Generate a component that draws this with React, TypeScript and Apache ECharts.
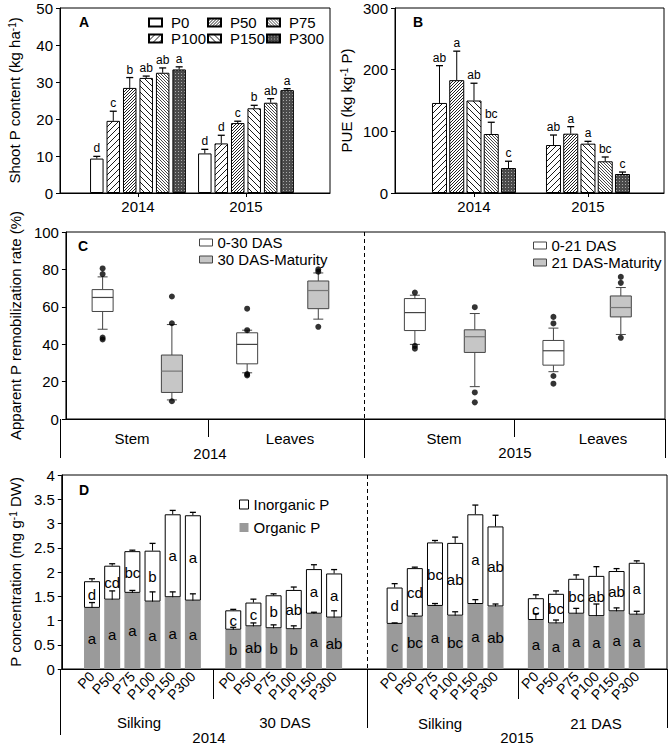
import React, { useEffect, useRef } from 'react';
import * as echarts from 'echarts';

const FONT = '"Liberation Sans", Arial, sans-serif';

// ---------- Panel A : Shoot P content ----------
const YEARS = ['2014', '2015'];
const A_NAMES = ['P0', 'P100', 'P50', 'P150', 'P75', 'P300'];
const A_MEAN = [
  [9.3, 10.7],
  [19.5, 13.4],
  [28.4, 18.9],
  [31.1, 22.9],
  [32.5, 24.4],
  [33.4, 27.8],
];
const A_ERR = [
  [0.6, 1.1],
  [2.6, 2.2],
  [2.8, 0.5],
  [0.5, 0.8],
  [1.3, 1.1],
  [0.7, 0.4],
];
const A_LET = [
  ['d', 'd'],
  ['c', 'd'],
  ['b', 'c'],
  ['ab', 'b'],
  ['ab', 'ab'],
  ['a', 'a'],
];

// ---------- Panel B : PUE ----------
const B_NAMES = ['P100', 'P50', 'P150', 'P75', 'P300'];
const B_MEAN = [
  [146, 77.8],
  [183, 96.2],
  [150, 80],
  [95.7, 51.4],
  [40.5, 30.8],
];
const B_ERR = [
  [60.5, 16.2],
  [47, 11.4],
  [28, 3.8],
  [19, 7],
  [11, 3.2],
];
const B_LET = [
  ['ab', 'ab'],
  ['a', 'a'],
  ['ab', 'a'],
  ['bc', 'bc'],
  ['c', 'c'],
];

// ---------- Panel C : remobilization boxplots ----------
const C_BOX_NAMES = [
  '0-30 DAS', '30 DAS-Maturity', '0-30 DAS', '30 DAS-Maturity',
  '0-21 DAS', '21 DAS-Maturity', '0-21 DAS', '21 DAS-Maturity',
];
// [lower whisker, Q1, median, Q3, upper whisker]
const C_STATS = [
  [48, 57.5, 65, 69.2, 76],
  [10.2, 14.2, 25.6, 34.2, 50.5],
  [24.7, 29.5, 39.9, 46.1, 47.5],
  [53.4, 59, 68.7, 73.8, 78.1],
  [39.9, 47.3, 56.9, 64.4, 66.2],
  [17.3, 35.6, 44, 47.7, 56.4],
  [25.3, 28.8, 36.5, 42, 48.6],
  [45.2, 54.6, 59.6, 65.8, 70.3],
];
const C_OUTLIERS = [
  [80.5, 77.5, 43.5, 42.5],
  [65.5, 51.2, 9.5],
  [59, 47.5, 24, 23.3],
  [80, 78.8, 49.3],
  [67.6, 39.1, 37.6],
  [59.8, 14.2, 8.9],
  [54.6, 51.1, 23, 18.9],
  [76, 72.8, 43.4],
];
const C_LEGEND_2014 = ['0-30 DAS', '30 DAS-Maturity'];
const C_LEGEND_2015 = ['0-21 DAS', '21 DAS-Maturity'];

// ---------- Panel D : P concentration ----------
const D_TREAT = ['P0', 'P50', 'P75', 'P100', 'P150', 'P300'];
const D_ORG = [
  [1.26, 1.43, 1.57, 1.39, 1.48, 1.41],
  [0.81, 0.88, 0.84, 0.82, 1.14, 1.06],
  [0.93, 1.08, 1.3, 1.1, 1.34, 1.29],
  [1.01, 0.94, 1.14, 1.09, 1.19, 1.12],
];
const D_INORG = [
  [0.55, 0.7, 0.86, 1.05, 1.71, 1.76],
  [0.4, 0.49, 0.68, 0.81, 0.92, 0.91],
  [0.75, 1.0, 1.31, 1.5, 1.85, 1.65],
  [0.45, 0.61, 0.72, 0.83, 0.83, 1.07],
];
const D_ORG_ERR = [
  [0.11, 0.18, 0.05, 0.2, 0.11, 0.14],
  [0.05, 0.07, 0.07, 0.07, 0.03, 0.14],
  [0.02, 0.06, 0.05, 0.08, 0.09, 0.05],
  [0.13, 0.07, 0.11, 0.25, 0.07, 0.07],
];
const D_INORG_ERR = [
  [0.05, 0.04, 0.02, 0.15, 0.08, 0.06],
  [0.02, 0.07, 0.03, 0.06, 0.09, 0.08],
  [0.08, 0.02, 0.04, 0.12, 0.19, 0.23],
  [0.07, 0.06, 0.08, 0.19, 0.05, 0.04],
];
const D_ORG_LET = [
  ['a', 'a', 'a', 'a', 'a', 'a'],
  ['b', 'ab', 'b', 'b', 'a', 'ab'],
  ['c', 'bc', 'a', 'bc', 'a', 'ab'],
  ['a', 'a', 'a', 'a', 'a', 'a'],
];
const D_INORG_LET = [
  ['d', 'cd', 'bc', 'b', 'a', 'a'],
  ['c', 'c', 'b', 'ab', 'a', 'a'],
  ['d', 'cd', 'bc', 'ab', 'a', 'ab'],
  ['c', 'bc', 'bc', 'ab', 'ab', 'a'],
];

// ---------- layout constants ----------
const C_BOX_POS = [0.49, 1.415, 2.42, 3.37, 4.66, 5.46, 6.51, 7.41];
const D_SLOTS = 30;
const D_GROUP_START = [1, 8, 16, 23];

function tile(size: number, body: string, bg: string) {
  const svg = `<svg xmlns="http://www.w3.org/2000/svg" width="${size}" height="${size}"><rect width="${size}" height="${size}" fill="${bg}"/>${body}</svg>`;
  return { image: 'data:image/svg+xml;charset=utf-8,' + encodeURIComponent(svg), repeat: 'repeat', imageWidth: size, imageHeight: size };
}
function fwd(s: number, stroke: string, w: number) {
  const h = s / 2;
  return `<path d="M0,${s} L${s},0 M${-h},${h} L${h},${-h} M${h},${s + h} L${s + h},${h}" stroke="${stroke}" stroke-width="${w}" fill="none"/>`;
}
function back(s: number, stroke: string, w: number) {
  const h = s / 2;
  return `<path d="M0,0 L${s},${s} M${-h},${h} L${h},${s + h} M${h},${-h} L${s + h},${h}" stroke="${stroke}" stroke-width="${w}" fill="none"/>`;
}

const FILLS: Record<string, any> = {
  P0: '#ffffff',
  P100: tile(6, fwd(6, '#000', 0.9), '#fff'),
  P150: tile(6, back(6, '#000', 0.9), '#fff'),
  P50: tile(3, fwd(3, '#222', 1), '#fff'),
  P75: tile(3, back(3, '#333', 0.9), '#fff'),
  P300: tile(3, '<rect x="1" y="1" width="1" height="1" fill="#aaa"/>', '#4a4a4a'),
};

function barStyle(name: string) {
  return { color: FILLS[name], borderColor: '#000', borderWidth: 1 };
}

function errRender(letters: string[][], i: number, off: number, font: number) {
  return (params: any, api: any) => {
    const x = api.value(0);
    const base = api.coord([x, api.value(1)]);
    const top = api.coord([x, api.value(2)]);
    const cx = base[0] + off;
    return {
      type: 'group',
      children: [
        { type: 'line', shape: { x1: cx, y1: base[1], x2: cx, y2: top[1] }, style: { stroke: '#000', lineWidth: 1 } },
        { type: 'line', shape: { x1: cx - 3.5, y1: top[1], x2: cx + 3.5, y2: top[1] }, style: { stroke: '#000', lineWidth: 1.3 } },
        {
          type: 'text', x: cx, y: top[1] - 2,
          style: { text: letters[i][params.dataIndex], fill: '#000', fontSize: font, fontFamily: FONT, align: 'center', verticalAlign: 'bottom' },
        },
      ],
    };
  };
}

function slotArray(rows: any[][], blank: any) {
  const arr = new Array(D_SLOTS).fill(blank);
  D_GROUP_START.forEach((s, g) => rows[g].forEach((v, k) => { arr[s + k] = v; }));
  return arr;
}

function buildOption() {
  const axisText = { fontSize: 15, color: '#000', fontFamily: FONT };
  const nameStyle = {
    fontSize: 15, color: '#000', fontFamily: FONT,
    rich: { sup: { fontSize: 10, verticalAlign: 'top', color: '#000', fontFamily: FONT } },
  };
  const blackLine = { lineStyle: { color: '#000', width: 1 } };

  const yAxisBase = (gridIndex: number, min: number, max: number, interval: number, name: string) => ({
    gridIndex, type: 'value', min, max, interval, name, nameLocation: 'middle', nameGap: 38,
    nameTextStyle: nameStyle,
    axisLine: { show: true, onZero: false, ...blackLine },
    axisTick: { show: true, length: 4, ...blackLine },
    splitLine: { show: false },
    axisLabel: { ...axisText, margin: 7 },
  });

  const series: any[] = [];

  // Panel A bars
  const A_W = 13.5, A_GAP = 0.22;
  const aPitch = A_W * (1 + A_GAP);
  A_NAMES.forEach((name, i) => {
    series.push({
      type: 'bar', name, xAxisIndex: 0, yAxisIndex: 0,
      data: A_MEAN[i].map((v, j) => [j, v]),
      barWidth: A_W, barGap: A_GAP * 100 + '%',
      itemStyle: barStyle(name),
    });
  });
  A_NAMES.forEach((name, i) => {
    series.push({
      type: 'custom', name: 'errA' + i, xAxisIndex: 0, yAxisIndex: 0, z: 5,
      data: A_MEAN[i].map((v, j) => [j, v, v + A_ERR[i][j]]),
      encode: { x: 0, y: 2 },
      renderItem: errRender(A_LET, i, (i - (A_NAMES.length - 1) / 2) * aPitch, 12),
    });
  });

  // Panel B bars
  const B_W = 15, B_GAP = 0.15;
  const bPitch = B_W * (1 + B_GAP);
  B_NAMES.forEach((name, i) => {
    series.push({
      type: 'bar', name, xAxisIndex: 1, yAxisIndex: 1,
      data: B_MEAN[i].map((v, j) => [j, v]),
      barWidth: B_W, barGap: B_GAP * 100 + '%',
      itemStyle: barStyle(name),
    });
  });
  B_NAMES.forEach((name, i) => {
    series.push({
      type: 'custom', name: 'errB' + i, xAxisIndex: 1, yAxisIndex: 1, z: 5,
      data: B_MEAN[i].map((v, j) => [j, v, v + B_ERR[i][j]]),
      encode: { x: 0, y: 2 },
      renderItem: errRender(B_LET, i, (i - (B_NAMES.length - 1) / 2) * bPitch, 12),
    });
  });

  // Panel C boxes
  const boxFill: Record<string, string> = {
    '0-30 DAS': '#fff', '30 DAS-Maturity': '#c6c6c6', '0-21 DAS': '#fff', '21 DAS-Maturity': '#c6c6c6',
  };
  [...C_LEGEND_2014, ...C_LEGEND_2015].forEach((nm) => {
    const data: number[][] = [];
    C_BOX_NAMES.forEach((b, k) => { if (b === nm) data.push([C_BOX_POS[k], ...C_STATS[k]]); });
    const fill = boxFill[nm];
    const median = fill === '#fff' ? '#444' : '#777';
    series.push({
      type: 'custom', name: nm, xAxisIndex: 2, yAxisIndex: 2,
      itemStyle: { color: fill, borderColor: '#444' },
      data,
      encode: { x: 0, y: [1, 2, 3, 4, 5] },
      renderItem: (params: any, api: any) => {
        const x = api.value(0);
        const p = (v: number) => api.coord([x, v]);
        const pMin = p(api.value(1)), pQ1 = p(api.value(2)), pMd = p(api.value(3)), pQ3 = p(api.value(4)), pMax = p(api.value(5));
        const cx = pMin[0];
        const hw = 10.5, cw = 5;
        const st = { stroke: '#444', lineWidth: 1 };
        return {
          type: 'group',
          children: [
            { type: 'line', shape: { x1: cx, y1: pQ3[1], x2: cx, y2: pMax[1] }, style: st },
            { type: 'line', shape: { x1: cx, y1: pQ1[1], x2: cx, y2: pMin[1] }, style: st },
            { type: 'line', shape: { x1: cx - cw, y1: pMax[1], x2: cx + cw, y2: pMax[1] }, style: st },
            { type: 'line', shape: { x1: cx - cw, y1: pMin[1], x2: cx + cw, y2: pMin[1] }, style: st },
            { type: 'rect', shape: { x: cx - hw, y: pQ3[1], width: 2 * hw, height: pQ1[1] - pQ3[1] }, style: { fill, stroke: '#444', lineWidth: 1 } },
            { type: 'line', shape: { x1: cx - hw, y1: pMd[1], x2: cx + hw, y2: pMd[1] }, style: { stroke: median, lineWidth: 1.2 } },
          ],
        };
      },
    });
  });
  const outData: number[][] = [];
  C_OUTLIERS.forEach((arr, k) => arr.forEach((v) => outData.push([C_BOX_POS[k], v])));
  series.push({
    type: 'scatter', name: 'outliers', xAxisIndex: 2, yAxisIndex: 2, z: 6,
    symbol: 'circle', symbolSize: 6, itemStyle: { color: '#000' }, data: outData,
  });

  // Panel D stacked bars
  const orgSlots = slotArray(D_ORG, '-');
  const inorgSlots = slotArray(D_INORG, '-');
  const orgLet = slotArray(D_ORG_LET, '');
  const inorgLet = slotArray(D_INORG_LET, '');
  const dCats = slotArray(D_GROUP_START.map(() => D_TREAT), '');
  const labelStyle = { show: true, position: 'inside', fontSize: 15, color: '#000', fontFamily: FONT };
  series.push({
    type: 'bar', name: 'Organic P', xAxisIndex: 3, yAxisIndex: 3, stack: 'd', barWidth: 16,
    data: orgSlots, itemStyle: { color: '#9a9a9a' },
    label: { ...labelStyle, formatter: (p: any) => orgLet[p.dataIndex] },
  });
  series.push({
    type: 'bar', name: 'Inorganic P', xAxisIndex: 3, yAxisIndex: 3, stack: 'd', barWidth: 16,
    data: inorgSlots, itemStyle: { color: '#fff', borderColor: '#000', borderWidth: 1 },
    label: { ...labelStyle, formatter: (p: any) => inorgLet[p.dataIndex] },
  });
  const dErr: number[][] = [];
  D_GROUP_START.forEach((s, g) => D_TREAT.forEach((_, k) => {
    const o = D_ORG[g][k];
    const t = o + D_INORG[g][k];
    dErr.push([s + k, o, o + D_ORG_ERR[g][k]]);
    dErr.push([s + k, t, t + D_INORG_ERR[g][k]]);
  }));
  series.push({
    type: 'custom', name: 'errD', xAxisIndex: 3, yAxisIndex: 3, z: 5,
    data: dErr, encode: { x: 0, y: 2 },
    renderItem: (params: any, api: any) => {
      const x = api.value(0);
      const b = api.coord([x, api.value(1)]);
      const t = api.coord([x, api.value(2)]);
      return {
        type: 'group',
        children: [
          { type: 'line', shape: { x1: b[0], y1: b[1], x2: b[0], y2: t[1] }, style: { stroke: '#000', lineWidth: 1 } },
          { type: 'line', shape: { x1: b[0] - 3, y1: t[1], x2: b[0] + 3, y2: t[1] }, style: { stroke: '#000', lineWidth: 1.3 } },
        ],
      };
    },
  });

  // ---------- decorations ----------
  const ln = (x1: number, y1: number, x2: number, y2: number, dash = false) => ({
    type: 'line', silent: true, z: 100,
    shape: { x1, y1, x2, y2 },
    style: { stroke: '#000', lineWidth: 1, lineDash: dash ? [4, 3] : null },
  });
  const tx = (x: number, y: number, t: string, size = 15, bold = false) => ({
    type: 'text', silent: true, z: 100, x, y,
    style: { text: t, fontSize: size, fontWeight: bold ? 'bold' : 'normal', fontFamily: FONT, fill: '#000', align: 'center', verticalAlign: 'middle' },
  });
  const graphic = [
    tx(84, 22, 'A', 14, true),
    tx(418, 22, 'B', 14, true),
    tx(83, 246, 'C', 14, true),
    tx(84, 490, 'D', 14, true),
    // panel C categories
    ln(60.5, 419, 60.5, 458),
    ln(208.5, 419, 208.5, 437),
    ln(364.5, 232, 364.5, 419, true),
    ln(364.5, 419, 364.5, 458),
    ln(514.5, 419, 514.5, 437),
    ln(665.5, 419, 665.5, 458),
    tx(132, 438, 'Stem'),
    tx(290, 438, 'Leaves'),
    tx(210, 453, '2014'),
    tx(444, 438, 'Stem'),
    tx(603, 438, 'Leaves'),
    tx(515, 452, '2015'),
    // panel D categories
    ln(60.5, 669, 60.5, 735),
    ln(213.5, 669, 213.5, 699),
    ln(367.5, 475, 367.5, 669, true),
    ln(367.5, 669, 367.5, 728),
    ln(518.5, 669, 518.5, 699),
    ln(667.5, 669, 667.5, 728),
    tx(139, 722, 'Silking'),
    tx(285, 722, '30 DAS'),
    tx(209, 737, '2014'),
    tx(440, 723, 'Silking'),
    tx(596, 723, '21 DAS'),
    tx(517, 737, '2015'),
  ];

  const legendCommon = {
    orient: 'vertical', selectedMode: false, icon: 'rect',
    textStyle: { fontSize: 15, color: '#000', fontFamily: FONT },
    padding: 0,
  };
  const legendA = {
    ...legendCommon, top: 15, itemWidth: 13, itemHeight: 8, itemGap: 1,
    textStyle: { ...legendCommon.textStyle, padding: [0, 0, 0, 4] },
  };

  return {
    animation: false,
    textStyle: { fontFamily: FONT, color: '#000' },
    grid: [
      { left: 60, top: 8, width: 270, height: 185, show: true, borderColor: '#000', borderWidth: 1 },
      { left: 395, top: 8, width: 269, height: 185, show: true, borderColor: '#000', borderWidth: 1 },
      { left: 60, top: 232, width: 605, height: 187, show: true, borderColor: '#000', borderWidth: 1 },
      { left: 60, top: 475, width: 607, height: 194, show: true, borderColor: '#000', borderWidth: 1 },
    ],
    xAxis: [
      {
        gridIndex: 0, type: 'value', min: -0.722, max: 1.778, splitLine: { show: false },
        axisLine: { onZero: false, ...blackLine }, axisTick: { customValues: [0, 1], length: 4, ...blackLine },
        axisLabel: { ...axisText, customValues: [0, 1], margin: 6, formatter: (v: number) => YEARS[Math.round(v)] },
      },
      {
        gridIndex: 1, type: 'value', min: -0.693, max: 1.667, splitLine: { show: false },
        axisLine: { onZero: false, ...blackLine }, axisTick: { customValues: [0, 1], length: 4, ...blackLine },
        axisLabel: { ...axisText, customValues: [0, 1], margin: 6, formatter: (v: number) => YEARS[Math.round(v)] },
      },
      {
        gridIndex: 2, type: 'value', min: 0, max: 8, splitLine: { show: false },
        axisLine: { onZero: false, ...blackLine }, axisTick: { show: false }, axisLabel: { show: false },
      },
      {
        gridIndex: 3, type: 'category', data: dCats,
        axisLine: { onZero: false, ...blackLine },
        axisTick: { interval: 0, length: 5, ...blackLine },
        axisLabel: { interval: 0, rotate: 45, fontSize: 14, color: '#000', fontFamily: FONT, margin: 5 },
      },
    ],
    yAxis: [
      yAxisBase(0, 0, 50, 10, 'Shoot P content (kg ha{sup|-1})'),
      { ...yAxisBase(1, 0, 300, 100, 'PUE (kg kg{sup|-1} P)'), nameGap: 41 },
      yAxisBase(2, 0, 100, 20, 'Apparent P remobilization rate (%)'),
      yAxisBase(3, 0, 4, 0.5, 'P concentration (mg g{sup|-1} DW)'),
    ],
    legend: [
      { ...legendA, data: ['P0', 'P100'], left: 148 },
      { ...legendA, data: ['P50', 'P150'], left: 207 },
      { ...legendA, data: ['P75', 'P300'], left: 266 },
      {
        ...legendCommon, left: 199, top: 235, itemWidth: 13, itemHeight: 7, itemGap: 2,
        data: C_LEGEND_2014.map((n, k) => ({ name: n, itemStyle: { color: k ? '#c6c6c6' : '#fff', borderColor: '#444', borderWidth: 1 } })),
      },
      {
        ...legendCommon, left: 533, top: 238, itemWidth: 13, itemHeight: 7, itemGap: 2,
        data: C_LEGEND_2015.map((n, k) => ({ name: n, itemStyle: { color: k ? '#c6c6c6' : '#fff', borderColor: '#444', borderWidth: 1 } })),
      },
      {
        ...legendCommon, left: 239, top: 497, itemWidth: 9, itemHeight: 9, itemGap: 8,
        data: [
          { name: 'Inorganic P', itemStyle: { color: '#fff', borderColor: '#000', borderWidth: 1 } },
          { name: 'Organic P', itemStyle: { color: '#9a9a9a', borderWidth: 0 } },
        ],
      },
    ],
    series,
    graphic,
  };
}

export default function App() {
  const ref = useRef<HTMLDivElement>(null);
  useEffect(() => {
    document.body.style.margin = '0';
    const chart = echarts.init(ref.current as HTMLDivElement, null, { renderer: 'svg' });
    chart.setOption(buildOption() as any);
    return () => chart.dispose();
  }, []);
  return <div ref={ref} style={{ width: 670, height: 744 }} />;
}
